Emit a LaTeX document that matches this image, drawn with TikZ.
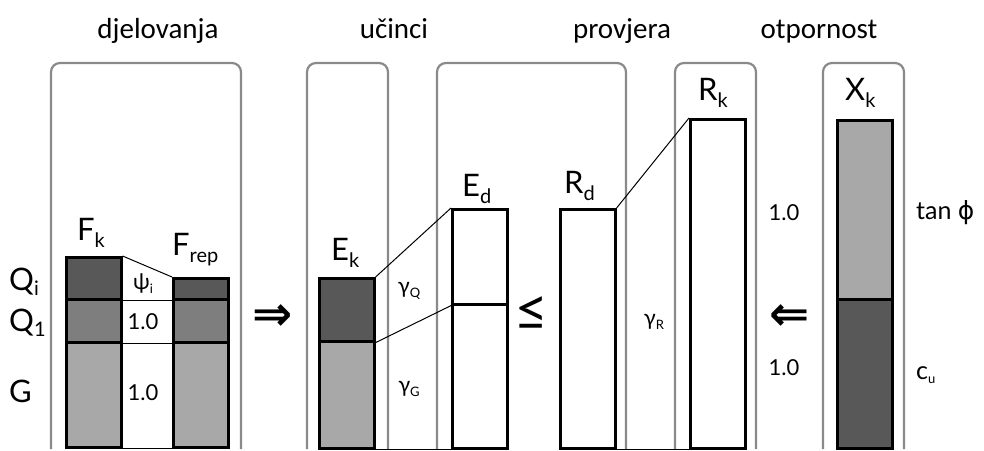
\documentclass[tikz,border=0pt]{standalone}
\usepackage{fontspec}
\setmainfont{Lato}
\newfontfamily\titlefont{Carlito}
\newfontfamily\symfont{DejaVu Sans}
\usetikzlibrary{positioning}

\definecolor{darkgr}{HTML}{585858}
\definecolor{midgr}{HTML}{7E7E7E}
\definecolor{lightgr}{HTML}{A8A8A8}
\definecolor{panelgr}{HTML}{8A8A8A}

\newcommand{\sub}[3][-7pt]{#2\raisebox{#1}{\fontsize{20}{20}\selectfont #3}}
\newcommand{\ssub}[2]{#1\raisebox{-4pt}{\fontsize{13}{13}\selectfont #2}}

\tikzset{
    panel/.style={draw=panelgr, line width=2.2pt, rounded corners=9pt},
    seg/.style={draw=black, line width=2.6pt, inner sep=0pt, anchor=north west, minimum width=55pt},
    thin/.style={line width=1pt},
    lbl/.style={inner sep=0pt, anchor=base west, font=\fontsize{31}{33}\selectfont},
    val/.style={inner sep=0pt, font=\fontsize{22}{24}\selectfont},
    title/.style={inner sep=0pt, anchor=base, font=\titlefont\fontsize{29}{32}\selectfont}
}

\begin{document}
\begin{tikzpicture}[x=1pt, y=-1pt]
    \useasboundingbox (0,0) rectangle (984,450);

    \node[title] (tdj) at (158,38) {djelovanja};
    \node[title] (tuc) at (394,38) {učinci};
    \node[title] (tpr) at (622,38) {provjera};
    \node[title] (tot) at (819,38) {otpornost};

    \draw[panel] (51,449) -- (51,63) -- (241,63) -- (241,449);
    \draw[panel] (307,449) -- (307,63) -- (388,63) -- (388,449);
    \draw[panel] (437,449) -- (437,63) -- (626,63) -- (626,449);
    \draw[panel] (675,449) -- (675,63) -- (756,63) -- (756,449);
    \draw[panel] (823,449) -- (823,63) -- (904,63) -- (904,449);

    % djelovanja
    \node[seg, fill=darkgr, minimum height=42pt] (fkQi) at (65,256) {};
    \node[seg, fill=midgr, minimum height=43pt] (fkQ1) at (65,298) {};
    \node[seg, fill=lightgr, minimum height=105pt] (fkG) at (65,341) {};
    \node[seg, fill=darkgr, minimum height=21pt] (frQi) at (172,277) {};
    \node[seg, fill=midgr, minimum height=43pt] (frQ1) at (172,298) {};
    \node[seg, fill=lightgr, minimum height=105pt] (frG) at (172,341) {};

    \draw[thin] (fkQi.north east) -- (frQi.north west);
    \draw[thin] (fkQi.south east) -- (frQi.south west);
    \draw[thin] (fkQ1.south east) -- (frQ1.south west);
    \draw[thin] (fkG.south east) -- (frG.south west);

    \node[lbl] (lfk) at (77,240) {\sub{F}{k}};
    \node[lbl] (lfr) at (172,255) {\sub{F}{rep}};
    \node[lbl] (lqi) at (9,290) {\sub[-5pt]{Q}{i}};
    \node[lbl] (lq1) at (9,331) {\sub[-5pt]{Q}{1}};
    \node[lbl] (lg) at (9,402) {G};
    \node[val] (psi) at (143,284) {\sub[-4pt]{ψ}{\fontsize{13}{13}\selectfont i}};
    \node[val] (v1) at (143,322) {1.0};
    \node[val] (v2) at (143,393) {1.0};

    \node[inner sep=0pt, font=\symfont\bfseries\fontsize{48}{48}\selectfont] (impl) at (273,318) {⇒};

    % ucinci
    \node[seg, fill=darkgr, minimum height=63pt] (ekQ) at (318,277) {};
    \node[seg, fill=lightgr, minimum height=107pt] (ekG) at (318,340) {};
    \node[seg, fill=white, minimum height=95pt] (edQ) at (451,208) {};
    \node[seg, fill=white, minimum height=144pt] (edG) at (451,303) {};

    \draw[thin] (ekQ.north east) -- (edQ.north west);
    \draw[thin] (ekQ.south east) -- (edQ.south west);
    \draw[thin] (ekG.south east) -- (edG.south west);

    \node[lbl] (lek) at (331,260) {\sub{E}{k}};
    \node[lbl] (led) at (462,196) {\sub{E}{d}};
    \node[val] (gq) at (409,291) {\ssub{γ}{Q}};
    \node[val] (gg) at (409,389) {\ssub{γ}{G}};

    \node[inner sep=0pt, font=\fontsize{58}{58}\selectfont] (leq) at (531,314) {≤};

    % provjera
    \node[seg, fill=white, minimum height=239pt] (rd) at (559,208) {};
    \node[seg, fill=white, minimum height=329pt] (rk) at (689,118) {};

    \draw[thin] (rd.north east) -- (rk.north west);
    \draw[thin] (rd.south east) -- (rk.south west);

    \node[lbl] (lrd) at (564,193) {\sub{R}{d}};
    \node[lbl] (lrk) at (698,100) {\sub{R}{k}};
    \node[val] (gr) at (654,322) {\ssub{γ}{R}};
    \node[val] (v3) at (784,213) {1.0};
    \node[val] (v4) at (784,368) {1.0};

    \node[inner sep=0pt, font=\symfont\bfseries\fontsize{48}{48}\selectfont] (impr) at (790,318) {⇐};

    % otpornost
    \node[seg, fill=lightgr, minimum height=179pt] (xt) at (836,119) {};
    \node[seg, fill=darkgr, minimum height=149pt] (xc) at (836,298) {};

    \node[lbl] (lxk) at (845,100) {\sub{X}{k}};
    \node[val, anchor=west, font=\fontsize{25}{27}\selectfont] (tphi) at (916,213) {tan {\symfont ϕ}};
    \node[val, anchor=west, font=\fontsize{25}{27}\selectfont] (cu) at (916,375) {\ssub{c}{u}};
\end{tikzpicture}
\end{document}
